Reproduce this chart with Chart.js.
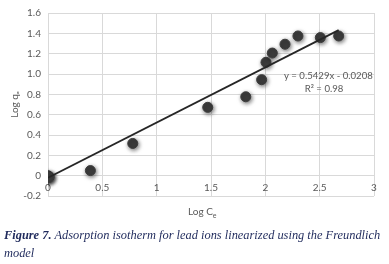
<!DOCTYPE html>
<html>
<head>
<meta charset="utf-8">
<script src="https://cdn.jsdelivr.net/npm/chart.js@4.4.1/dist/chart.umd.min.js"></script>
<style>
  html, body { margin: 0; padding: 0; background: #fff; }
  #wrap { position: relative; width: 389px; height: 264px; overflow: hidden; }
  #chart { position: absolute; left: 0; top: 0; }
  .axis-title { position: absolute; font-family: Lato, "Open Sans", sans-serif; font-size: 10px; color: #595959; }
  .caption { position: absolute; left: 4px; top: 226px; width: 385px; font-family: "Liberation Serif", "DejaVu Serif", serif;
             font-style: italic; font-size: 12.4px; line-height: 18px; color: #1f2a5c; }
</style>
</head>
<body>
<div id="wrap">
  <canvas id="chart" width="389" height="264"></canvas>
  <div class="axis-title" style="left:188px; top:205px;">Log C<sub style="font-size:7px">e</sub></div>
  <div class="caption"><b>Figure 7.</b> Adsorption isotherm for lead ions linearized using the Freundlich model</div>
</div>
<script>
// measured points (Log Ce, Log qe)
var logCe = [0, 0.01, 0.005, 0.39, 0.78, 1.47, 1.82, 1.966, 2.006, 2.064, 2.181, 2.30, 2.506, 2.675];
var logQe = [0, -0.01, -0.02, 0.05, 0.317, 0.672, 0.776, 0.944, 1.115, 1.206, 1.293, 1.374, 1.358, 1.374];

// linear trendline ends, from y = 0.5429x - 0.0208
var trendX = [0, 2.675];
var trendY = [-0.0208, 1.4314];

var eqText = ['y = 0.5429x - 0.0208', 'R² = 0.98'];

var xTicks = [0, 0.5, 1, 1.5, 2, 2.5, 3];

var pts = logCe.map(function (x, i) { return {x: x, y: logQe[i]}; });
var trend = trendX.map(function (x, i) { return {x: x, y: trendY[i]}; });

var shadowPlugin = {
  id: 'shadow',
  beforeDatasetDraw: function (chart, args) {
    if (args.index !== 1) return;
    var ctx = chart.ctx;
    ctx.save();
    ctx.shadowColor = 'rgba(0,0,0,0.55)';
    ctx.shadowBlur = 4;
    ctx.shadowOffsetX = 1;
    ctx.shadowOffsetY = 1.5;
  },
  afterDatasetDraw: function (chart, args) {
    if (args.index !== 1) return;
    chart.ctx.restore();
  }
};

var eqPlugin = {
  id: 'eq',
  afterDatasetsDraw: function (chart) {
    var ctx = chart.ctx;
    var xs = chart.scales.x, ys = chart.scales.y;
    ctx.save();
    ctx.fillStyle = '#595959';
    ctx.font = '9.6px Lato, "Open Sans", sans-serif';
    ctx.textAlign = 'center';
    ctx.textBaseline = 'middle';
    ctx.fillText(eqText[0], xs.getPixelForValue(2.58), ys.getPixelForValue(0.98));
    ctx.fillText(eqText[1], xs.getPixelForValue(2.54), ys.getPixelForValue(0.855));
    ctx.restore();
  }
};

new Chart(document.getElementById('chart'), {
  type: 'scatter',
  data: {
    datasets: [
      {
        type: 'line',
        data: trend,
        borderColor: '#262626',
        borderWidth: 1.8,
        pointRadius: 0,
        fill: false
      },
      {
        data: pts,
        backgroundColor: '#3d3d3d',
        borderColor: '#3d3d3d',
        pointRadius: 5,
        pointHoverRadius: 5
      }
    ]
  },
  options: {
    responsive: false,
    animation: false,
    layout: { padding: { left: 0, top: 10, right: 15, bottom: 68 } },
    plugins: { legend: { display: false }, tooltip: { enabled: false } },
    scales: {
      x: {
        type: 'linear',
        position: { y: 0 },
        min: 0, max: 3,
        afterBuildTicks: function (s) { s.ticks = xTicks.map(function (v) { return {value: v}; }); },
        grid: { color: '#d9d9d9', drawTicks: false, lineWidth: 1 },
        border: { display: false },
        ticks: {
          color: '#595959', font: { family: 'Lato, "Open Sans", sans-serif', size: 10 }, padding: 6,
          callback: function (v) { return String(v); }
        }
      },
      y: {
        min: -0.2, max: 1.6,
        ticks: { stepSize: 0.2, color: '#595959', font: { family: 'Lato, "Open Sans", sans-serif', size: 10 }, padding: 7 },
        grid: { color: '#d9d9d9', drawTicks: false },
        border: { display: false },
        title: { display: true, text: 'Log qₑ', color: '#595959', font: { family: 'Lato, "Open Sans", sans-serif', size: 10 }, padding: { top: 9, bottom: 0 } },
        afterFit: function (s) { s.width = 48; }
      }
    }
  },
  plugins: [shadowPlugin, eqPlugin]
});
</script>
</body>
</html>
